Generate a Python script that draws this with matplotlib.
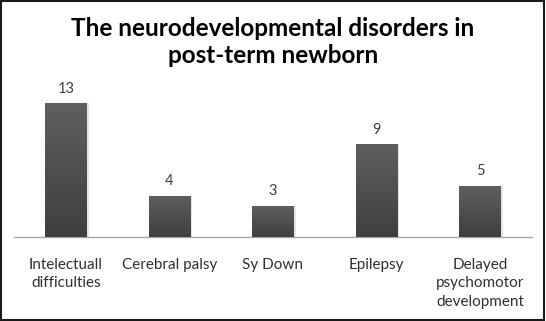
import numpy as np
import matplotlib
matplotlib.use("Agg")
import matplotlib.pyplot as plt
from matplotlib.patches import Rectangle

categories = ["Intelectuall\ndifficulties", "Cerebral palsy", "Sy Down",
              "Epilepsy", "Delayed\npsychomotor\ndevelopment"]
values = [13, 4, 3, 9, 5]
title = "The neurodevelopmental disorders in\npost-term newborn"

plt.rcParams["font.family"] = ["Lato", "DejaVu Sans"]

fig = plt.figure(figsize=(5.46, 3.21), dpi=100)
ax = fig.add_axes([14 / 546, 84 / 321, 518 / 546, 144 / 321])

x = np.arange(len(values))
width = 0.4
grad = np.linspace(0, 1, 100).reshape(-1, 1)
cmap = matplotlib.colors.LinearSegmentedColormap.from_list("g", ["#3f3f3f", "#5f5f5f"])

for xi, v in zip(x, values):
    # soft shadow on the right
    ax.bar(xi + 0.02, v, width, bottom=0, color="#000000", alpha=0.1, zorder=1)
    bar = ax.bar(xi, v, width, color="#4f4f4f", zorder=2)[0]
    im = ax.imshow(grad, cmap=cmap, origin="lower", aspect="auto",
                   extent=[xi - width / 2, xi + width / 2, 0, v], zorder=3)
    im.set_clip_path(bar)
    ax.text(xi, v + 0.75, str(v), ha="center", va="bottom", fontsize=10.5,
            color="#404040")

ax.set_xlim(-0.5, len(values) - 0.5)
ax.set_ylim(0, 14)
ax.set_xticks(x)
ax.set_xticklabels(categories, fontsize=11, color="#303030", linespacing=1.4,
                   va="top")
ax.tick_params(axis="x", length=0, pad=15)
ax.set_yticks([])
for s in ["top", "left", "right"]:
    ax.spines[s].set_visible(False)
ax.spines["bottom"].set_color("#a6a6a6")
ax.spines["bottom"].set_linewidth(1.0)

fig.text(0.5, 1 - 42 / 321, title, ha="center", va="center", fontsize=17.5,
         fontweight="bold", linespacing=1.25, color="#000000")

fig.patches.append(Rectangle((0.002, 0.003), 0.995, 0.993, transform=fig.transFigure,
                             fill=False, edgecolor="#1a1a1a", linewidth=1.5))

fig.savefig("out.png", dpi=100)
